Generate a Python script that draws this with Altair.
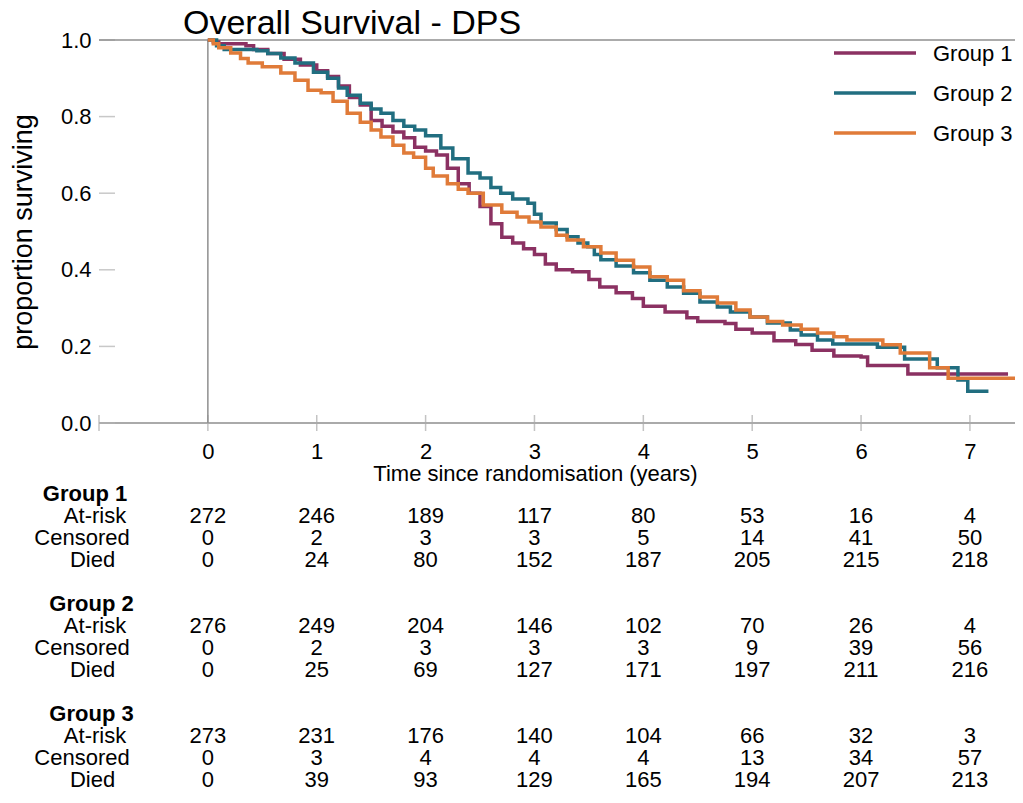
import altair as alt
import pandas as pd

FONT = "Liberation Sans"

title_text = ["Overall Survival - DPS"]
groups = ["Group 1", "Group 2", "Group 3"]
colors = ["#8b3162", "#216e80", "#e07b39"]

# Kaplan-Meier curves (time in years, proportion surviving)
g1_t = [0, 0.05, 0.1, 0.35, 0.42, 0.55, 0.7, 0.85, 1.0, 1.1, 1.2, 1.3, 1.4, 1.5, 1.6, 1.7, 1.8, 1.9,
        2.0, 2.1, 2.2, 2.3, 2.4, 2.5, 2.6, 2.7, 2.8, 2.9, 3.0, 3.1, 3.2, 3.35, 3.5, 3.6, 3.75, 3.9,
        4.0, 4.2, 4.4, 4.5, 4.75, 4.85, 5.0, 5.2, 5.4, 5.55, 5.75, 6.0, 6.06, 6.43, 7.35]
g1_s = [1.0, 0.995, 0.99, 0.985, 0.975, 0.965, 0.95, 0.935, 0.92, 0.905, 0.88, 0.85, 0.83, 0.79, 0.775,
        0.76, 0.745, 0.72, 0.71, 0.70, 0.665, 0.625, 0.60, 0.565, 0.52, 0.485, 0.47, 0.455, 0.44, 0.415,
        0.40, 0.395, 0.375, 0.355, 0.34, 0.325, 0.305, 0.29, 0.275, 0.265, 0.26, 0.245, 0.235, 0.215,
        0.205, 0.19, 0.175, 0.172, 0.15, 0.128, 0.128]

g2_t = [0, 0.08, 0.15, 0.45, 0.55, 0.67, 0.8, 0.97, 1.1, 1.2, 1.28, 1.4, 1.5, 1.59, 1.7, 1.8, 1.9,
        2.0, 2.14, 2.25, 2.39, 2.5, 2.6, 2.69, 2.8, 2.94, 3.0, 3.06, 3.2, 3.3, 3.4, 3.49, 3.55, 3.61,
        3.75, 3.91, 4.06, 4.22, 4.37, 4.52, 4.68, 4.8, 4.98, 5.14, 5.35, 5.45, 5.6, 5.74, 6.15, 6.4,
        6.7, 6.89, 6.98, 7.17]
g2_s = [1.0, 0.985, 0.975, 0.972, 0.965, 0.953, 0.94, 0.916, 0.9, 0.875, 0.856, 0.835, 0.82, 0.809,
        0.79, 0.775, 0.765, 0.75, 0.718, 0.69, 0.653, 0.64, 0.615, 0.60, 0.585, 0.574, 0.545, 0.522,
        0.505, 0.486, 0.47, 0.46, 0.44, 0.426, 0.41, 0.392, 0.373, 0.355, 0.339, 0.316, 0.303, 0.29,
        0.277, 0.261, 0.243, 0.23, 0.217, 0.206, 0.198, 0.167, 0.144, 0.112, 0.083, 0.083]

g3_t = [0, 0.05, 0.1, 0.21, 0.3, 0.37, 0.5, 0.67, 0.8, 0.92, 1.04, 1.15, 1.28, 1.4, 1.5, 1.59, 1.7,
        1.8, 1.89, 2.0, 2.07, 2.2, 2.3, 2.39, 2.53, 2.7, 2.84, 2.95, 3.06, 3.2, 3.3, 3.45, 3.61, 3.75,
        3.91, 4.06, 4.22, 4.37, 4.52, 4.68, 4.85, 4.98, 5.14, 5.28, 5.45, 5.6, 5.75, 5.87, 6.2, 6.36,
        6.63, 6.8, 7.48]
g3_s = [1.0, 0.99, 0.98, 0.966, 0.952, 0.94, 0.93, 0.914, 0.895, 0.869, 0.862, 0.84, 0.809, 0.785,
        0.765, 0.747, 0.725, 0.705, 0.694, 0.665, 0.645, 0.625, 0.61, 0.60, 0.569, 0.55, 0.538, 0.525,
        0.512, 0.49, 0.478, 0.46, 0.444, 0.425, 0.407, 0.382, 0.373, 0.345, 0.329, 0.313, 0.295, 0.277,
        0.265, 0.256, 0.245, 0.235, 0.225, 0.217, 0.204, 0.183, 0.144, 0.117, 0.117]

# risk table
table_times = [0, 1, 2, 3, 4, 5, 6, 7]
g1_risk = [272, 246, 189, 117, 80, 53, 16, 4]
g1_cens = [0, 2, 3, 3, 5, 14, 41, 50]
g1_died = [0, 24, 80, 152, 187, 205, 215, 218]
g2_risk = [276, 249, 204, 146, 102, 70, 26, 4]
g2_cens = [0, 2, 3, 3, 3, 9, 39, 56]
g2_died = [0, 25, 69, 127, 171, 197, 211, 216]
g3_risk = [273, 231, 176, 140, 104, 66, 32, 3]
g3_cens = [0, 3, 4, 4, 4, 13, 34, 57]
g3_died = [0, 39, 93, 129, 165, 194, 207, 213]
row_labels = ["At-risk", "Censored", "Died"]

x_labels = [0, 1, 2, 3, 4, 5, 6, 7]
x_ticks = [-1, 0, 1, 2, 3, 4, 5, 6, 7]
y_ticks = [0.0, 0.2, 0.4, 0.6, 0.8, 1.0]

# ---------- build tables ----------
curves = pd.concat([
    pd.DataFrame({"t": g1_t, "s": g1_s, "group": groups[0]}),
    pd.DataFrame({"t": g2_t, "s": g2_s, "group": groups[1]}),
    pd.DataFrame({"t": g3_t, "s": g3_s, "group": groups[2]}),
], ignore_index=True)

counts = [(g1_risk, g1_cens, g1_died), (g2_risk, g2_cens, g2_died), (g3_risk, g3_cens, g3_died)]
num_rows, lab_rows, head_rows = [], [], []
for gi, g in enumerate(groups):
    base = gi * 5
    head_rows.append({"txt": g, "row": base, "gi": gi})
    for ri, (lab, vals) in enumerate(zip(row_labels, counts[gi])):
        lab_rows.append({"txt": lab, "row": base + 1 + ri, "kind": lab})
        for t, v in zip(table_times, vals):
            num_rows.append({"t": t, "row": base + 1 + ri, "txt": str(v)})
nums_df = pd.DataFrame(num_rows)
labs_df = pd.DataFrame(lab_rows)
heads_df = pd.DataFrame(head_rows)

X_MAX = 7.414
W, H = 916, 383
xscale = alt.Scale(domain=[-1, X_MAX], nice=False, zero=False)
yscale = alt.Scale(domain=[0, 1], nice=False, zero=False)
one = pd.DataFrame({"k": [0]})

xaxis = alt.Axis(
    values=x_labels, format="d", domain=False, ticks=False, tickSize=0, grid=False,
    labelPadding=18, labelFontSize=22, labelFont=FONT, labelColor="black", labelFlush=False,
    title="Time since randomisation (years)", titleFontSize=22, titleFont=FONT,
    titleFontWeight="normal", titleColor="black", titleX=436, titleY=57,
    titleBaseline="alphabetic", titleAlign="center", orient="bottom")

lines = alt.Chart(curves).mark_line(interpolate="step-after", strokeWidth=3.5).encode(
    x=alt.X("t:Q", scale=xscale, axis=xaxis),
    y=alt.Y("s:Q", scale=yscale, axis=alt.Axis(
        values=y_ticks, format=".1f", domain=False, ticks=False, tickSize=0, grid=False,
        labelPadding=8, labelFontSize=22, labelFont=FONT, labelColor="black",
        title="proportion surviving", titleFontSize=27, titleFont=FONT,
        titleFontWeight="normal", titleColor="black", titleX=-62, titleY=191.5,
        titleAngle=270, titleBaseline="bottom", titleAlign="center", orient="left")),
    color=alt.Color("group:N", scale=alt.Scale(domain=groups, range=colors), legend=None),
)

vline = alt.Chart(one).mark_rule(color="#8f8f8f", strokeWidth=1.5).encode(
    x=alt.XDatum(0, scale=xscale, axis=xaxis),
    y=alt.YDatum(0, scale=yscale, axis=None), y2=alt.datum(1))
topline = alt.Chart(one).mark_rule(color="#8f8f8f", strokeWidth=1.5).encode(
    x=alt.XDatum(-1, scale=xscale, axis=xaxis), x2=alt.datum(X_MAX),
    y=alt.YDatum(1, scale=yscale, axis=None))
xline = alt.Chart(one).mark_rule(color="#aaaaaa", strokeWidth=2).encode(
    x=alt.XDatum(-1, scale=xscale, axis=xaxis), x2=alt.datum(X_MAX),
    y=alt.YDatum(0, scale=yscale, axis=None))
xt = alt.Chart(pd.DataFrame({"t": x_ticks})).mark_tick(
    orient="vertical", size=16, thickness=1.5, color="#aaaaaa").encode(
    x=alt.X("t:Q", scale=xscale, axis=xaxis),
    y=alt.YDatum(0, scale=yscale, axis=None))
yt = alt.Chart(pd.DataFrame({"s": y_ticks})).mark_tick(
    orient="horizontal", size=16, thickness=1.5, color="#b0b0b0", xOffset=8).encode(
    x=alt.XDatum(-1, scale=xscale, axis=xaxis),
    y=alt.Y("s:Q", scale=yscale, axis=None))

title_layer = alt.Chart(pd.DataFrame({"title": title_text})).mark_text(
    align="left", baseline="alphabetic", fontSize=34, font=FONT, color="black").encode(
    x=alt.value(84), y=alt.value(-6), text="title:N")

legend_layers = []
for i, g in enumerate(groups):
    ldf = pd.DataFrame({"group": [g]})
    legend_layers.append(alt.Chart(ldf).mark_rule(strokeWidth=3.5, color=colors[i]).encode(
        x=alt.value(735), x2=alt.value(817), y=alt.value(13 + 40 * i)))
    legend_layers.append(alt.Chart(ldf).mark_text(
        align="left", baseline="middle", fontSize=22, font=FONT, color="black").encode(
        x=alt.value(834), y=alt.value(14 + 40 * i), text="group:N"))

rowscale = alt.Scale(domain=[0, 13], range=[454.3, 740.3])
nums = alt.Chart(nums_df).mark_text(
    align="center", baseline="middle", fontSize=22, font=FONT, color="black").encode(
    x=alt.X("t:Q", scale=xscale, axis=xaxis),
    y=alt.Y("row:Q", scale=rowscale, axis=None),
    text="txt:N")

label_x = {"At-risk": -4, "Censored": -17, "Died": -6.5}
lab_layers = []
for kind in row_labels:
    lab_layers.append(alt.Chart(labs_df[labs_df["kind"] == kind]).mark_text(
        align="center", baseline="middle", fontSize=22, font=FONT, color="black").encode(
        x=alt.value(label_x[kind]),
        y=alt.Y("row:Q", scale=rowscale, axis=None),
        text="txt:N"))
head_x = [-14, -7.5, -7.5]
for gi in range(3):
    lab_layers.append(alt.Chart(heads_df[heads_df["gi"] == gi]).mark_text(
        align="center", baseline="middle", fontSize=22, font=FONT, fontWeight="bold",
        color="black").encode(
        x=alt.value(head_x[gi]),
        y=alt.Y("row:Q", scale=rowscale, axis=None),
        text="txt:N"))

chart = alt.layer(
    xline, xt, yt, vline, topline, lines, title_layer, *legend_layers, nums, *lab_layers
).resolve_scale(y="independent").properties(
    width=W, height=H,
    autosize=alt.AutoSizeParams(type="none"),
    padding={"left": 91, "top": 32, "right": 0, "bottom": 365},
).configure(font=FONT).configure_view(stroke=None)

chart.save("out.html", embed_options={"renderer": "svg", "actions": False})
